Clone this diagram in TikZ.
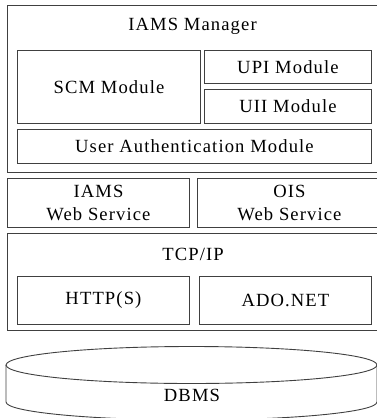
\documentclass[tikz,border=0pt]{standalone}
\usepackage{fontspec}
\setmainfont{Liberation Serif}[LetterSpace=6]
\begin{document}
\begin{tikzpicture}[x=1pt,y=-1pt,
  box/.style={draw=black!75, line width=0.9pt, inner sep=0pt, anchor=north west},
  lbl/.style={font=\fontsize{18.6}{23}\selectfont, text=black}]
\useasboundingbox (0,0) rectangle (377,418);
\clip (0,0) rectangle (377,418);
% IAMS Manager
\node[box, minimum width=374pt, minimum height=167pt] (mgr) at (7,5) {};
\node[lbl] (mgrt) at (192.5,26) {IAMS Manager};
\node[box, lbl, minimum width=183pt, minimum height=73pt] (scm) at (17,50) {SCM Module};
\node[box, lbl, minimum width=167pt, minimum height=33pt] (upi) at (204,50) {UPI Module};
\node[box, lbl, minimum width=167pt, minimum height=34pt] (uii) at (204,89) {UII Module};
\node[box, lbl, minimum width=354pt, minimum height=34pt] (auth) at (17,129) {User Authentication Module};
% Web services
\node[box, lbl, align=center, minimum width=182pt, minimum height=49pt] (iws) at (7,178) {IAMS\\Web Service};
\node[box, lbl, align=center, minimum width=184pt, minimum height=49pt] (ows) at (197,178) {OIS\\Web Service};
% TCP/IP
\node[box, minimum width=374pt, minimum height=97pt] (tcp) at (7,233) {};
\node[lbl] (tcpt) at (193,254) {TCP/IP};
\node[box, lbl, minimum width=172pt, minimum height=48pt] (http) at (17,276) {HTTP(S)};
\node[box, lbl, minimum width=172pt, minimum height=48pt] (ado) at (199,276) {ADO.NET};
% DBMS cylinder
\draw[draw=black!75, line width=0.9pt] (191.5,365) ellipse [x radius=185.5pt, y radius=18.5pt];
\draw[draw=black!75, line width=0.9pt] (6,365) -- (6,402) arc[start angle=180, end angle=360, x radius=185.5pt, y radius=18pt] -- (377,365);
\node[lbl] (db) at (192,395) {DBMS};
\end{tikzpicture}
\end{document}
